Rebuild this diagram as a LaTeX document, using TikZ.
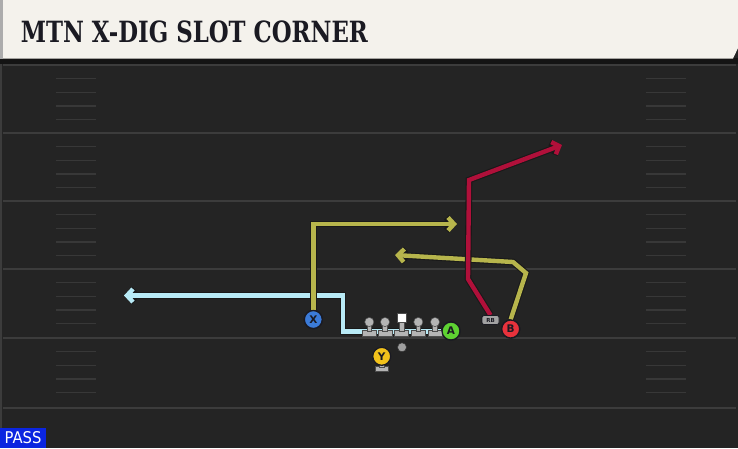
\documentclass[tikz,border=0pt]{standalone}
\usepackage{fontspec}
\setmainfont{DejaVu Sans}
\newfontfamily\titlefont{DejaVu Serif}
\usetikzlibrary{arrows.meta}
\definecolor{field}{HTML}{242424}
\definecolor{yardline}{HTML}{3C3C3C}
\definecolor{hashc}{HTML}{383838}
\definecolor{cream}{HTML}{F4F2EC}
\definecolor{routered}{HTML}{B0103A}
\definecolor{routeolive}{HTML}{B7B54C}
\definecolor{routeblue}{HTML}{B8EAF6}
\definecolor{xblue}{HTML}{3B7BD8}
\definecolor{agreen}{HTML}{5ED232}
\definecolor{bred}{HTML}{E8323C}
\definecolor{yyellow}{HTML}{F2C21B}
\definecolor{pawn}{HTML}{B4B4B4}
\definecolor{passblue}{HTML}{0B25E0}
\definecolor{ink}{HTML}{1A1A22}
\tikzset{
  rt/.style={line width=4.4pt, draw=#1, line join=miter,
    -{Straight Barb[length=6pt,width=13pt]},
    preaction={draw=black!90, line width=6.6pt, line join=miter,
      -{Straight Barb[length=6pt,width=13pt]}}},
  player/.style={circle, draw=ink, line width=1.3pt, fill=#1, minimum size=18pt,
    inner sep=0pt, text=ink, font=\bfseries\fontsize{10.5}{10.5}\selectfont},
  pawnpart/.style={fill=pawn, draw=black!70, line width=0.5pt}
}
\begin{document}
\begin{tikzpicture}[x=1pt,y=-1pt]
\useasboundingbox (0,0) rectangle (738,448);
\fill[field] (0,0) rectangle (738,448);
% header
\fill[black!92] (0,58) rectangle (738,64);
\fill[cream] (3,0) -- (738,0) -- (738,48) -- (733,58.5) -- (3,58.5) -- cycle;
\fill[gray!65] (0,0) rectangle (3,59);
\draw[yardline, line width=1.5pt] (1,64) -- (1,448);
\node[anchor=north west, inner sep=0pt, text=ink] (title) at (20.7,21)
  {\resizebox{347pt}{21.7pt}{\titlefont\bfseries MTN X-DIG SLOT CORNER}};
% yard lines and hashes
\foreach \y in {65,133,201,269,338,408} {
  \draw[yardline, line width=1.8pt] (3,\y) -- (736,\y);
}
\foreach \y in {65,133,201,269,338} {
  \foreach \k in {1,2,3,4} {
    \draw[hashc, line width=1.3pt] (56,\y+13.7*\k) -- (96,\y+13.7*\k);
    \draw[hashc, line width=1.3pt] (646,\y+13.7*\k) -- (686,\y+13.7*\k);
  }
}
% player nodes (placed first for anchors, redrawn later on top)
\path (313.3,319.5) node[player=xblue] (X) {};
\path (451,331) node[player=agreen] (A) {};
\path (510.7,329) node[player=bred] (B) {};
\path (490.5,320) node[rounded corners=2pt, fill=pawn!90!black, draw=ink, line width=0.8pt,
   minimum width=17pt, minimum height=9pt, inner sep=0pt] (RB) {};
% route coordinates
\coordinate (a1) at (343,331.5);
\coordinate (a2) at (343,295.5);
\coordinate (aend) at (124,295.5);
\coordinate (x1) at (313.3,224);
\coordinate (xend) at (457,224);
\coordinate (b1) at (526,273);
\coordinate (b2) at (513,262);
\coordinate (bend) at (395,255);
\coordinate (r1) at (468,279);
\coordinate (r2) at (469,180);
\coordinate (rend) at (562,145);
% routes
\draw[rt=routeblue] (A.west |- a1) -- (a1) -- (a2) -- (aend);
\draw[rt=routeolive] (X.north) -- (x1) -- (xend);
\draw[rt=routeolive] (B.north) -- (b1) -- (b2) -- (bend);
\draw[rt=routered] (RB.north) -- (r1) -- (r2) -- (rend);
% linemen
\foreach \x in {369.3,385,418.3,435} {
  \fill[pawnpart] (\x-7,330) rectangle (\x+7,336);
  \fill[pawnpart] (\x-2.4,324) rectangle (\x+2.4,331);
  \filldraw[pawnpart] (\x,322) circle (4.6pt);
}
\fill[pawnpart] (401.7-7,330) rectangle (401.7+7,336);
\fill[pawnpart] (401.7-2.4,321) rectangle (401.7+2.4,331);
\filldraw[fill=white, draw=black!70, line width=0.5pt] (397,313.5) rectangle (406.4,322.5);
% ball
\node[circle, fill=gray!75, draw=black!80, line width=0.5pt, minimum size=9pt, inner sep=0pt] (ball) at (402,347.3) {};
% Y with stand
\fill[pawnpart] (375.5,366) rectangle (388,371.5);
\fill[pawnpart] (379.5,362) rectangle (384,367);
\node[player=yyellow] (Y) at (381.7,356.3) {Y};
% players on top
\node[player=xblue] at (X) {X};
\node[player=agreen] at (A) {A};
\node[player=bred] at (B) {B};
\node[rounded corners=2pt, fill=pawn!90!black, draw=ink, line width=0.8pt,
   minimum width=17pt, minimum height=9pt, inner sep=0pt, text=ink,
   font=\bfseries\fontsize{5.5}{5.5}\selectfont] at (RB) {RB};
% PASS label
\node[fill=passblue, anchor=south west, minimum width=45.7pt, minimum height=20.3pt,
  inner sep=0pt, text=white] (pass) at (0,448)
  {\resizebox{36.7pt}{12pt}{PASS}};
\end{tikzpicture}
\end{document}
